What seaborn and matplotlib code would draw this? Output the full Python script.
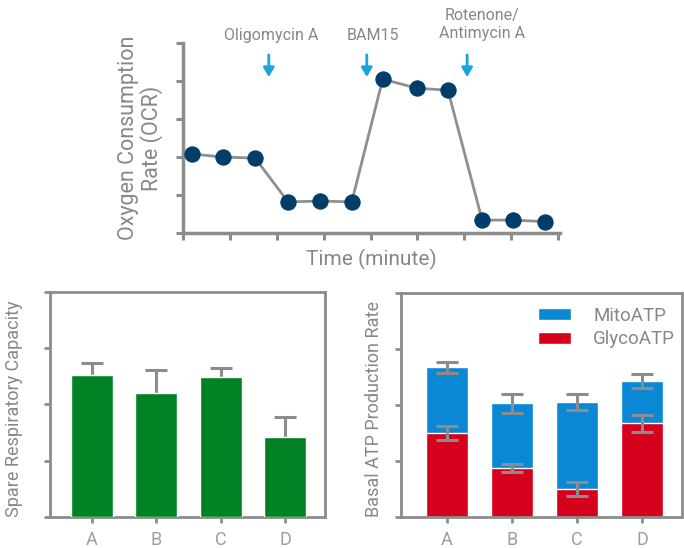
import matplotlib
matplotlib.use("Agg")
import matplotlib.pyplot as plt
import seaborn as sns
import numpy as np
import pandas as pd

# ---- data ----
time_min = [1.9, 8.5, 15.4, 22.4, 29.2, 36.0, 42.6, 49.9, 56.5, 63.8, 70.4, 77.2]
ocr = [2.08, 2.00, 1.97, 0.82, 0.84, 0.82, 4.05, 3.81, 3.76, 0.34, 0.34, 0.30]
injections = ["Oligomycin A", "BAM15", "Rotenone/\nAntimycin A"]
injection_times = [18.3, 39.2, 60.6]

groups = ["A", "B", "C", "D"]
spare_capacity = [2.52, 2.20, 2.48, 1.43]
spare_err = [0.21, 0.41, 0.16, 0.34]

glyco_atp = [1.50, 0.88, 0.50, 1.67]
glyco_err = [0.13, 0.07, 0.13, 0.15]
mito_atp = [1.17, 1.15, 1.55, 0.76]
total_err = [0.10, 0.17, 0.14, 0.12]

# ---- style ----
sns.set_style("white")
plt.rcParams['font.family'] = ['Roboto', 'DejaVu Sans']
GRAY = "#8c8c8c"
TXT = "#878787"
LIGHT = "#9e9e9e"
NAVY = "#003d69"
CYAN = "#1aa3dc"
GREEN = "#008224"
BLUE = "#0a88d6"
RED = "#d6001c"

fig = plt.figure(figsize=(6.84, 5.48), dpi=100)

# ---- top: OCR line ----
ax1 = fig.add_axes([0.2675, 0.5748, 0.5512, 0.3467])
df1 = pd.DataFrame({"time": time_min, "ocr": ocr})
sns.lineplot(data=df1, x="time", y="ocr", ax=ax1, color="#8f8f8f", lw=2.0,
             marker="o", markersize=11, markerfacecolor=NAVY,
             markeredgecolor=NAVY, zorder=3, clip_on=False)
ax1.set_xlim(0, 80.4)
ax1.set_ylim(0, 5.0)
ax1.set_xticks(np.arange(0, 81, 10))
ax1.set_yticks(np.arange(0, 6, 1))
ax1.set_xticklabels([])
ax1.set_yticklabels([])
for s in ["top", "right"]:
    ax1.spines[s].set_visible(False)
for s in ["left", "bottom"]:
    ax1.spines[s].set_color(GRAY)
    ax1.spines[s].set_linewidth(2.5)
ax1.tick_params(axis="both", direction="out", length=5, width=2.2, color=GRAY,
                bottom=True, left=True)
ax1.set_xlabel("Time (minute)", fontsize=15, color=TXT, labelpad=3)
ax1.set_ylabel("Oxygen Consumption\nRate (OCR)", fontsize=15.5, color=TXT,
               labelpad=6, linespacing=1.05)

label_x = [18.8, 40.5, 63.8]
label_y = [5.21, 5.21, 5.5]
for name, t, lx, ly in zip(injections, injection_times, label_x, label_y):
    ax1.annotate("", xy=(t, 4.03), xytext=(t, 4.76),
                 arrowprops=dict(arrowstyle="-|>,head_width=0.32,head_length=0.55",
                                 color=CYAN, lw=2.0), annotation_clip=False)
    ax1.text(lx, ly, name, ha="center", va="center", fontsize=11.5, color=TXT,
             linespacing=1.25, clip_on=False)

# ---- bottom left: spare respiratory capacity ----
ax2 = fig.add_axes([0.0731, 0.0566, 0.4020, 0.4106])
sns.barplot(x=groups, y=spare_capacity, color=GREEN, width=0.65, ax=ax2,
            errorbar=None, saturation=1, zorder=3)
ax2.errorbar(range(len(groups)), spare_capacity, yerr=spare_err, fmt="none",
             ecolor=GRAY, elinewidth=2.2, capsize=8, capthick=2.2, zorder=2)
ax2.set_xlim(-0.653, 3.62)
ax2.set_ylim(0, 4)
ax2.set_yticks(np.arange(0, 5, 1))
ax2.set_yticklabels([])
ax2.set_ylabel("Spare Respiratory Capacity", fontsize=13, color=TXT)

# ---- bottom right: basal ATP production ----
ax3 = fig.add_axes([0.5863, 0.0566, 0.4108, 0.4088])
total_atp = [g + m for g, m in zip(glyco_atp, mito_atp)]
sns.barplot(x=groups, y=total_atp, color=BLUE, width=0.65, ax=ax3,
            errorbar=None, saturation=1, label="MitoATP", zorder=2)
sns.barplot(x=groups, y=glyco_atp, color=RED, width=0.65, ax=ax3,
            errorbar=None, saturation=1, label="GlycoATP", zorder=2)
ax3.errorbar(range(len(groups)), total_atp, yerr=total_err, fmt="none",
             ecolor=GRAY, elinewidth=2.2, capsize=8, capthick=2.2, zorder=4)
ax3.errorbar(range(len(groups)), glyco_atp, yerr=glyco_err, fmt="none",
             ecolor=GRAY, elinewidth=2.2, capsize=8, capthick=2.2, zorder=4)
ax3.set_xlim(-0.708, 3.615)
ax3.set_ylim(0, 4)
ax3.set_yticks(np.arange(0, 5, 1))
ax3.set_yticklabels([])
ax3.set_ylabel("Basal ATP Production Rate", fontsize=13, color=TXT)
leg = ax3.legend(loc="upper right", frameon=False, fontsize=13.5,
                 handlelength=1.75, handleheight=0.6, handletextpad=1.2,
                 labelspacing=0.3, borderaxespad=0.4,
                 bbox_to_anchor=(1.028, 1.005))
for t in leg.get_texts():
    t.set_color(TXT)

for ax in (ax2, ax3):
    for s in ax.spines.values():
        s.set_visible(True)
        s.set_color(GRAY)
        s.set_linewidth(2.0)
    ax.tick_params(axis="both", direction="out", length=4, width=2.0,
                   color=GRAY, bottom=True, left=True, labelsize=13,
                   labelcolor=LIGHT, pad=6)
    ax.tick_params(axis="y", labelleft=False)
    ax.set_xlabel("")

ax2.yaxis.set_label_coords(-0.098, 0.48)
ax3.yaxis.set_label_coords(-0.064, 0.48)

fig.savefig("out.png", dpi=100)
